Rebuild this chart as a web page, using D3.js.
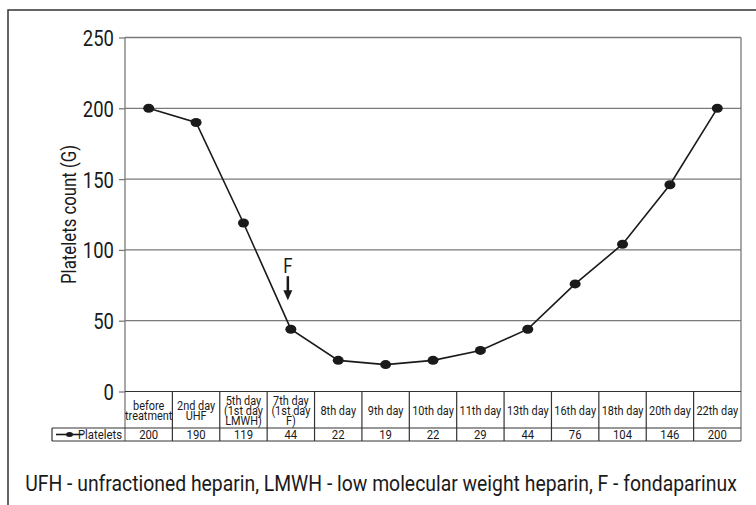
<!DOCTYPE html>
<html>
<head>
<meta charset="utf-8">
<script src="https://cdn.jsdelivr.net/npm/d3@7"></script>
<style>
body { margin: 0; background: #fff; }
svg text {
	font-family: "Liberation Sans Narrow", "Roboto", sans-serif;
	fill: #1a1a1a;
	transform-box: fill-box;
	transform-origin: center;
	transform: scaleX(0.84);
}
svg text.endanchor { transform-origin: right; }
svg text.foot { transform: scaleX(0.88); }
</style>
</head>
<body>
<div id="chart"></div>
<script>
// chart data
var categories = [
	["before", "treatment"], ["2nd day", "UHF"], ["5th day", "(1st day", "LMWH)"],
	["7th day", "(1st day", "F)"], ["8th day"], ["9th day"], ["10th day"], ["11th day"],
	["13th day"], ["16th day"], ["18th day"], ["20th day"], ["22th day"]
];
var platelets = [200, 190, 119, 44, 22, 19, 22, 29, 44, 76, 104, 146, 200];
var yTicks = [0, 50, 100, 150, 200, 250];
var seriesName = "Platelets";
var yTitle = "Platelets count (G)";
var footnote = "UFH - unfractioned heparin, LMWH - low molecular weight heparin, F - fondaparinux";
var arrowIndex = 3;
var arrowLabel = "F";

var width = 756, height = 505;
var plotLeft = 125, plotRight = 741, plotTop = 37.5, plotBottom = 391.5;
var catRowH = 36.5, dataRowH = 13;
var legendLeft = 52;

var svg = d3.select("#chart").append("svg")
	.attr("width", width)
	.attr("height", height);

// outer frame (cropped at right/bottom)
svg.append("path")
	.attr("d", "M8,505 L8,10 L756,10")
	.attr("fill", "none")
	.attr("stroke", "#333")
	.attr("stroke-width", 1.5);

var ids = categories.map(function(d, i) { return i; });

var xScale = d3.scaleBand()
	.domain(ids)
	.range([plotLeft, plotRight]);

var yScale = d3.scaleLinear()
	.domain([0, 250])
	.range([plotBottom, plotTop]);

// gridlines
svg.append("g").selectAll("line")
	.data(yTicks.filter(function(d) { return d > 0; }))
	.enter()
	.append("line")
	.attr("x1", plotLeft)
	.attr("x2", plotRight)
	.attr("y1", function(d) { return yScale(d); })
	.attr("y2", function(d) { return yScale(d); })
	.attr("stroke", "#7a7a7a")
	.attr("stroke-width", 1.3);

// y axis
var yAxis = d3.axisLeft(yScale)
	.tickValues(yTicks)
	.tickSize(6)
	.tickPadding(5);

var yAxisHandle = svg.append("g")
	.attr("transform", "translate(" + plotLeft + ",0)")
	.call(yAxis);
yAxisHandle.attr("font-family", null).attr("font-size", null);
yAxisHandle.select(".domain").remove();
yAxisHandle.selectAll("line").attr("stroke", "#7a7a7a").attr("stroke-width", 1.3);
yAxisHandle.selectAll("text")
	.attr("class", "endanchor")
	.attr("font-size", 22)
	.attr("dy", "0.36em")
	.attr("fill", null);

svg.append("line")
	.attr("x1", plotLeft).attr("x2", plotLeft)
	.attr("y1", plotTop).attr("y2", plotBottom + catRowH + dataRowH)
	.attr("stroke", "#7a7a7a").attr("stroke-width", 1.3);

svg.append("g")
	.attr("transform", "translate(76," + ((plotTop + plotBottom) / 2) + ") rotate(-90)")
	.append("text")
	.attr("x", 0)
	.attr("y", 0)
	.attr("text-anchor", "middle")
	.attr("font-size", 20)
	.text(yTitle);

// right border of plot and table
svg.append("line")
	.attr("x1", plotRight).attr("x2", plotRight)
	.attr("y1", plotTop).attr("y2", plotBottom + catRowH + dataRowH)
	.attr("stroke", "#7a7a7a").attr("stroke-width", 1.3);

// table
var table = svg.append("g");
table.append("line")
	.attr("x1", plotLeft).attr("x2", plotRight)
	.attr("y1", plotBottom).attr("y2", plotBottom)
	.attr("stroke", "#333").attr("stroke-width", 1.2);
[plotBottom + catRowH, plotBottom + catRowH + dataRowH].forEach(function(y) {
	table.append("line")
		.attr("x1", legendLeft).attr("x2", plotRight)
		.attr("y1", y).attr("y2", y)
		.attr("stroke", "#333").attr("stroke-width", 1.2);
});
table.append("line")
	.attr("x1", legendLeft).attr("x2", legendLeft)
	.attr("y1", plotBottom + catRowH).attr("y2", plotBottom + catRowH + dataRowH)
	.attr("stroke", "#333").attr("stroke-width", 1.2);

table.selectAll(".sep")
	.data(ids.slice(1))
	.enter()
	.append("line")
	.attr("class", "sep")
	.attr("x1", function(d) { return xScale(d); })
	.attr("x2", function(d) { return xScale(d); })
	.attr("y1", plotBottom)
	.attr("y2", plotBottom + catRowH + dataRowH)
	.attr("stroke", "#333")
	.attr("stroke-width", 1.2);

var catText = table.selectAll(".cat")
	.data(ids)
	.enter()
	.append("text")
	.attr("class", "cat")
	.attr("text-anchor", "middle")
	.attr("font-size", 13)
	.attr("x", function(d) { return xScale(d) + xScale.bandwidth() / 2; })
	.attr("y", function(d) {
		var n = categories[d].length;
		return plotBottom + catRowH / 2 - (n - 1) * 4.9 + 5;
	});
catText.selectAll("tspan")
	.data(function(d) { return categories[d]; })
	.enter()
	.append("tspan")
	.attr("x", function() { return d3.select(this.parentNode).attr("x"); })
	.attr("dy", function(d, i) { return i === 0 ? 0 : 9.8; })
	.text(function(d) { return d; });

table.selectAll(".val")
	.data(ids)
	.enter()
	.append("text")
	.attr("class", "val")
	.attr("text-anchor", "middle")
	.attr("font-size", 13.5)
	.attr("x", function(d) { return xScale(d) + xScale.bandwidth() / 2; })
	.attr("y", plotBottom + catRowH + dataRowH - 2)
	.text(function(d) { return platelets[d]; });

// legend cell
var ly = plotBottom + catRowH + dataRowH / 2;
table.append("line")
	.attr("x1", 56).attr("x2", 83)
	.attr("y1", ly).attr("y2", ly)
	.attr("stroke", "#1a1a1a").attr("stroke-width", 1.6);
table.append("ellipse")
	.attr("cx", 69.5).attr("cy", ly)
	.attr("rx", 3.5).attr("ry", 2.5)
	.attr("fill", "#1a1a1a");
table.append("text")
	.attr("class", "endanchor")
	.attr("x", plotLeft - 3)
	.attr("y", plotBottom + catRowH + dataRowH - 2)
	.attr("text-anchor", "end")
	.attr("font-size", 13.5)
	.text(seriesName);

// series line
var line = d3.line()
	.x(function(d, i) { return xScale(i) + xScale.bandwidth() / 2; })
	.y(function(d) { return yScale(d); });

svg.append("path")
	.datum(platelets)
	.attr("d", line)
	.attr("fill", "none")
	.attr("stroke", "#1a1a1a")
	.attr("stroke-width", 1.6);

svg.selectAll(".pt")
	.data(platelets)
	.enter()
	.append("ellipse")
	.attr("class", "pt")
	.attr("cx", function(d, i) { return xScale(i) + xScale.bandwidth() / 2; })
	.attr("cy", function(d) { return yScale(d); })
	.attr("rx", 5.5)
	.attr("ry", 4.5)
	.attr("fill", "#1a1a1a");

// F arrow
var ax = xScale(arrowIndex) + xScale.bandwidth() / 2 - 3;
var aTip = yScale(platelets[arrowIndex]) - 29;
svg.append("text")
	.attr("x", ax)
	.attr("y", aTip - 27)
	.attr("text-anchor", "middle")
	.attr("font-size", 20)
	.text(arrowLabel);
svg.append("line")
	.attr("x1", ax).attr("x2", ax)
	.attr("y1", aTip - 24).attr("y2", aTip - 8)
	.attr("stroke", "#1a1a1a").attr("stroke-width", 2.5);
svg.append("path")
	.attr("d", "M" + (ax - 4.5) + "," + (aTip - 10) + " L" + (ax + 4.5) + "," + (aTip - 10) + " L" + ax + "," + aTip + " Z")
	.attr("fill", "#1a1a1a");

// footnote
svg.append("text")
	.attr("class", "foot")
	.attr("x", 381)
	.attr("y", 491)
	.attr("text-anchor", "middle")
	.attr("font-size", 22)
	.text(footnote);
</script>
</body>
</html>
